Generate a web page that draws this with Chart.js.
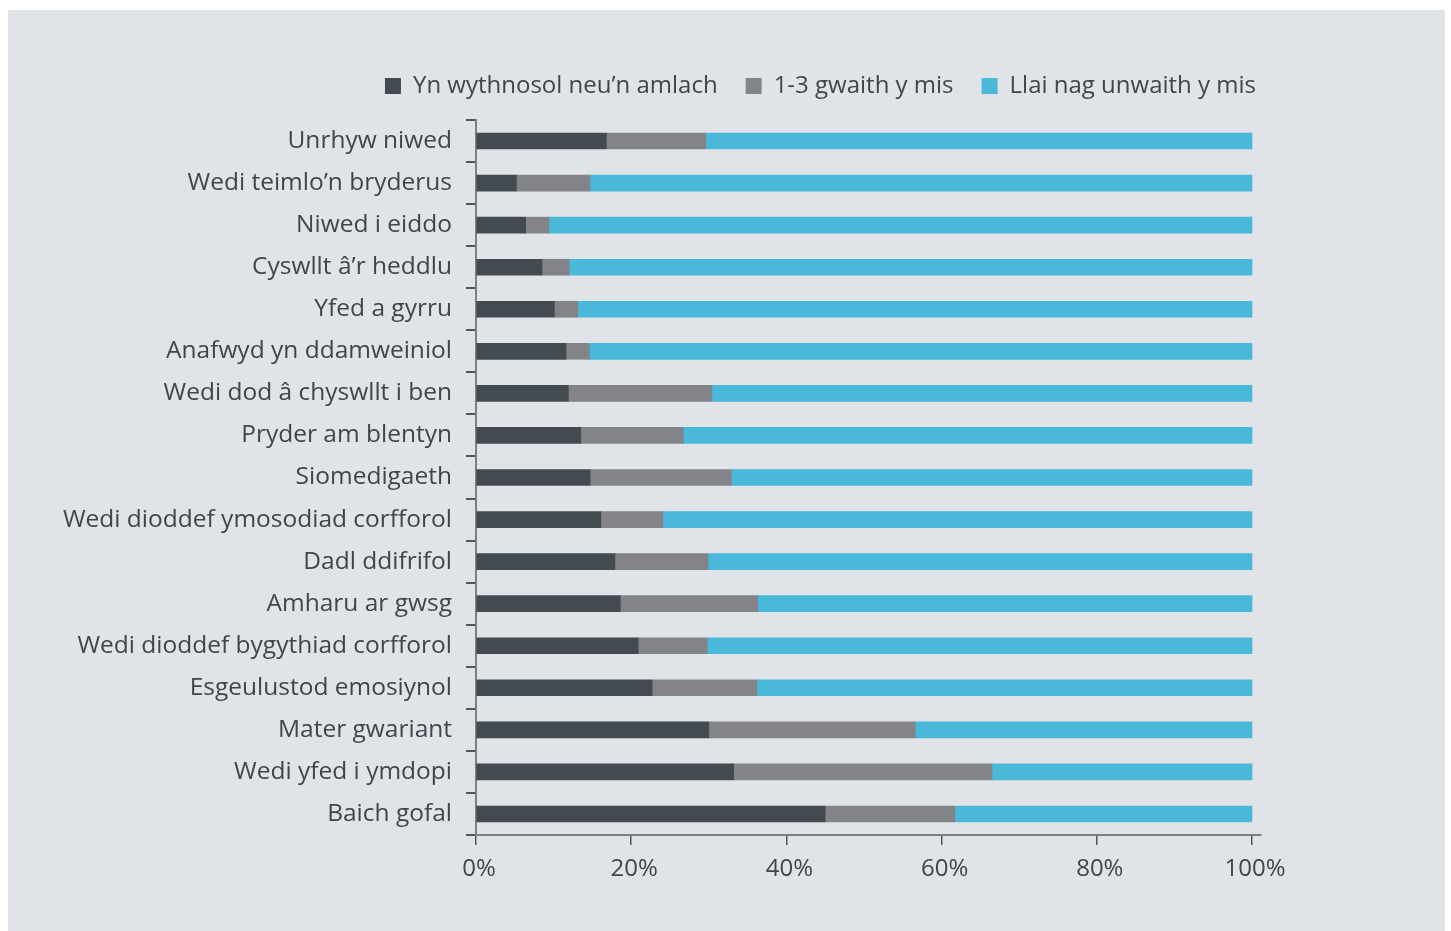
<!DOCTYPE html>
<html>
<head>
<meta charset="utf-8">
<script src="https://cdn.jsdelivr.net/npm/chart.js@4.4.1/dist/chart.umd.min.js"></script>
<style>
  html, body { margin: 0; padding: 0; background: #ffffff; }
  #panel { position: absolute; left: 8px; top: 10px; width: 1437px; height: 921px; background: #e0e4e9; }
  #wrap { position: absolute; left: 0; top: 0; width: 1437px; height: 921px; }
</style>
</head>
<body>
<div id="panel"><div id="wrap"><canvas id="c"></canvas></div></div>
<script>
const categories = [
  "Unrhyw niwed",
  "Wedi teimlo\u2019n bryderus",
  "Niwed i eiddo",
  "Cyswllt \u00e2\u2019r heddlu",
  "Yfed a gyrru",
  "Anafwyd yn ddamweiniol",
  "Wedi dod \u00e2 chyswllt i ben",
  "Pryder am blentyn",
  "Siomedigaeth",
  "Wedi dioddef ymosodiad corfforol",
  "Dadl ddifrifol",
  "Amharu ar gwsg",
  "Wedi dioddef bygythiad corfforol",
  "Esgeulustod emosiynol",
  "Mater gwariant",
  "Wedi yfed i ymdopi",
  "Baich gofal"
];
const weekly  = [16.8, 5.2, 6.4, 8.5, 10.1, 11.6, 11.9, 13.5, 14.7, 16.1, 17.9, 18.6, 20.9, 22.7, 30.0, 33.2, 45.0];
const monthly = [12.8, 9.5, 3.0, 3.5, 3.0, 3.0, 18.5, 13.2, 18.2, 8.0, 12.0, 17.7, 8.9, 13.5, 26.6, 33.3, 16.7];
const rarely  = [70.4, 85.3, 90.6, 88.0, 86.9, 85.4, 69.6, 73.3, 67.1, 75.9, 70.1, 63.7, 70.2, 63.8, 43.4, 33.5, 38.3];
const seriesNames = ["Yn wythnosol neu\u2019n amlach", "1-3 gwaith y mis", "Llai nag unwaith y mis"];
const xTicks = [0, 20, 40, 60, 80, 100];

const FONT = "'Open Sans', sans-serif";
const TEXT = "#3f464b";

const legendTweak = {
  id: 'legendTweak',
  beforeInit(chart) {
    const orig = chart.legend.fit;
    chart.legend.fit = function () { orig.bind(chart.legend)(); this.height += 12; };
  },
  afterLayout(chart) {
    chart.legend.left += 23;
    chart.legend.right += 23;
  }
};

new Chart(document.getElementById('c'), {
  type: 'bar',
  data: {
    labels: categories,
    datasets: [
      { label: seriesNames[0], data: weekly,  backgroundColor: '#434a50' },
      { label: seriesNames[1], data: monthly, backgroundColor: '#838489' },
      { label: seriesNames[2], data: rarely,  backgroundColor: '#4ab8d8' }
    ]
  },
  options: {
    indexAxis: 'y',
    responsive: true,
    maintainAspectRatio: false,
    animation: false,
    datasets: { bar: { barThickness: 16, borderWidth: 0 } },
    layout: { padding: { top: 36, right: 184, bottom: 0, left: 0 } },
    plugins: {
      tooltip: { enabled: false },
      legend: {
        position: 'top',
        align: 'end',
        labels: {
          boxWidth: 16, boxHeight: 16, padding: 28,
          color: TEXT,
          font: { family: FONT, size: 24 }
        }
      }
    },
    scales: {
      x: {
        stacked: true,
        min: 0, max: 101.16,
        afterBuildTicks(scale) { scale.ticks = xTicks.map(v => ({ value: v })); },
        afterFit(scale) { scale.height = 96; },
        ticks: {
          color: TEXT, padding: 10, labelOffset: 3,
          font: { family: FONT, size: 24 },
          callback: v => v + '%'
        },
        grid: { drawOnChartArea: false, drawTicks: true, tickLength: 10, color: '#50575c', lineWidth: 1.5 },
        border: { display: true, color: '#7b8085', width: 2 }
      },
      y: {
        stacked: true,
        afterFit(scale) { scale.width = 468; },
        ticks: {
          color: TEXT, padding: 14,
          font: { family: FONT, size: 24.5 }
        },
        grid: { drawOnChartArea: false, drawTicks: true, tickLength: 10, offset: true, color: '#50575c', lineWidth: 2 },
        border: { display: true, color: '#7b8085', width: 2 }
      }
    }
  },
  plugins: [legendTweak]
});
</script>
</body>
</html>
